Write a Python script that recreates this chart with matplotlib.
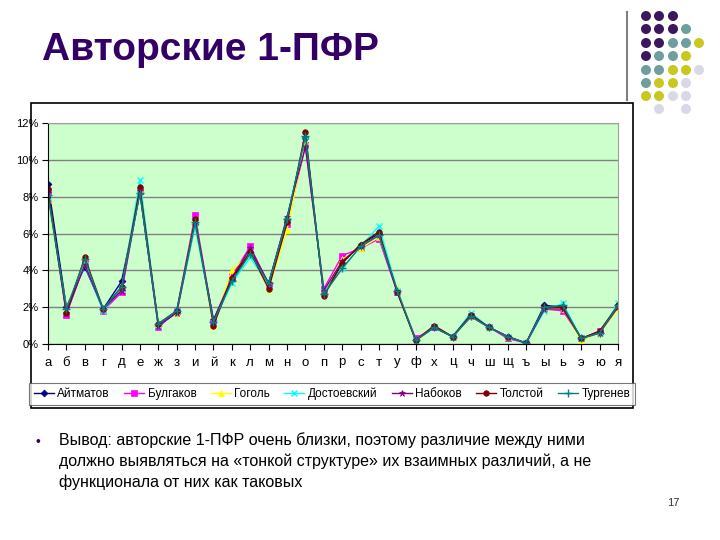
import numpy as np
import matplotlib
matplotlib.use("Agg")
import matplotlib.pyplot as plt
from matplotlib.patches import Rectangle, Circle
from matplotlib.ticker import FuncFormatter

plt.rcParams['font.family'] = ['Liberation Sans', 'DejaVu Sans']

# Letters of the alphabet (categories)
letters = ['а', 'б', 'в', 'г', 'д', 'е', 'ж', 'з', 'и', 'й', 'к', 'л', 'м', 'н', 'о', 'п',
           'р', 'с', 'т', 'у', 'ф', 'х', 'ц', 'ч', 'ш', 'щ', 'ъ', 'ы', 'ь', 'э', 'ю', 'я']

# Letter frequencies, %
aitmatov = [8.7, 2.0, 4.2, 1.9, 3.4, 8.2, 1.0, 1.7, 6.5, 1.3, 3.5, 5.0, 3.3, 6.8, 11.2, 2.7,
            4.4, 5.4, 6.0, 2.9, 0.2, 0.9, 0.4, 1.5, 0.9, 0.4, 0.05, 2.1, 2.0, 0.3, 0.6, 2.1]
bulgakov = [8.3, 1.6, 4.4, 1.8, 2.8, 8.3, 0.9, 1.8, 7.0, 1.2, 3.7, 5.3, 3.2, 6.5, 10.8, 3.0,
            4.8, 5.2, 5.7, 2.8, 0.3, 0.9, 0.4, 1.5, 0.9, 0.3, 0.05, 1.9, 1.8, 0.3, 0.7, 2.0]
gogol = [7.8, 1.9, 4.5, 1.9, 3.0, 8.4, 1.1, 1.7, 6.8, 1.0, 4.0, 4.9, 3.0, 6.2, 11.0, 2.8,
         4.6, 5.2, 5.8, 3.0, 0.1, 1.0, 0.4, 1.5, 0.9, 0.4, 0.05, 1.9, 1.9, 0.2, 0.6, 1.9]
dostoevsky = [8.0, 1.8, 4.3, 1.8, 3.0, 8.9, 1.0, 1.8, 6.4, 1.2, 3.3, 4.7, 3.2, 6.7, 11.3, 2.8,
              4.1, 5.3, 6.4, 2.9, 0.2, 0.9, 0.4, 1.7, 0.9, 0.4, 0.05, 1.8, 2.2, 0.3, 0.6, 2.2]
nabokov = [8.2, 1.7, 4.3, 1.9, 2.9, 8.3, 1.0, 1.7, 6.7, 1.3, 3.6, 5.2, 3.3, 6.9, 10.7, 2.9,
           4.5, 5.3, 5.9, 2.8, 0.2, 0.9, 0.4, 1.5, 0.9, 0.4, 0.05, 1.9, 1.9, 0.3, 0.6, 2.0]
tolstoy = [8.4, 1.7, 4.7, 1.9, 3.1, 8.5, 1.1, 1.8, 6.8, 1.0, 3.6, 5.0, 3.0, 6.6, 11.5, 2.6,
           4.4, 5.4, 6.1, 2.8, 0.2, 1.0, 0.4, 1.6, 0.9, 0.4, 0.05, 2.0, 2.0, 0.3, 0.7, 2.1]
turgenev = [8.1, 1.9, 4.6, 1.9, 3.1, 8.2, 1.1, 1.8, 6.6, 1.2, 3.4, 4.9, 3.3, 6.8, 11.3, 2.7,
            4.1, 5.3, 5.9, 2.9, 0.2, 0.9, 0.4, 1.5, 0.9, 0.4, 0.05, 2.0, 2.1, 0.3, 0.6, 2.1]

authors = ['Айтматов', 'Булгаков', 'Гоголь', 'Достоевский', 'Набоков', 'Толстой', 'Тургенев']
series = [aitmatov, bulgakov, gogol, dostoevsky, nabokov, tolstoy, turgenev]
colors = ['#000080', '#FF00FF', '#FFFF00', '#00FFFF', '#800080', '#800000', '#008080']
markers = ['D', 's', '^', 'x', '*', 'o', '+']
msizes = [3.5, 4, 4, 5, 5, 4, 6]

W, H = 720, 540
fig = plt.figure(figsize=(7.2, 5.4), dpi=100)

# background layer in pixel coordinates
bg = fig.add_axes([0, 0, 1, 1])
bg.set_xlim(0, W)
bg.set_ylim(H, 0)
bg.axis('off')

# vertical grey line near the top-right
bg.plot([627, 627], [12, 100], color='#808080', lw=1.5)

# decorative dots
P, T, Y, L = '#3B1760', '#6E9E9E', '#C8C81E', '#D8D8E8'
dot_rows = [
    [P, P, P],
    [P, P, P, T],
    [P, P, T, T, Y],
    [P, T, T, Y],
    [T, T, Y, Y, L],
    [T, Y, Y, L],
    [Y, Y, L, L],
    [None, L, None, L],
]
dot_x = [646, 659, 673, 686, 699]
dot_y = [16, 29, 43, 56, 70, 83, 96, 109]
for r, row in enumerate(dot_rows):
    for c, col in enumerate(row):
        if col is not None:
            bg.add_patch(Circle((dot_x[c], dot_y[r]), 5.0, color=col, lw=0))

# chart frame
bg.add_patch(Rectangle((31, 103), 602, 305, fill=False, ec='black', lw=1.2))

# title
fig.text(42 / W, 1 - 50 / H, 'Авторские 1-ПФР', fontsize=28, fontweight='bold',
         color='#330066', va='center', ha='left')

# bullet text
fig.text(35 / W, 1 - 442 / H, '•', fontsize=10, color='#330066', va='center', ha='left')
body = ('Вывод: авторские 1-ПФР очень близки, поэтому различие между ними\n'
        'должно выявляться на «тонкой структуре» их взаимных различий, а не\n'
        'функционала от них как таковых')
fig.text(59 / W, 1 - 432 / H, body, fontsize=11.5, color='black', va='top', ha='left',
         linespacing=1.45)

fig.text(673 / W, 1 - 503 / H, '17', fontsize=8, color='#333333', va='center', ha='center')

# chart
ax = fig.add_axes([48 / W, 1 - 344 / H, (618 - 48) / W, (344 - 123) / H])
ax.set_facecolor('#CCFFCC')
x = np.arange(len(letters))
for vals, name, c, m, ms in zip(series, authors, colors, markers, msizes):
    ax.plot(x, vals, color=c, marker=m, markersize=ms, lw=1.0, label=name,
            markeredgewidth=1.0 if m in ('x', '+') else 0.5)

ax.set_xlim(0, len(letters) - 1)
ax.set_ylim(0, 12)
ax.set_yticks(np.arange(0, 13, 2))
ax.yaxis.set_major_formatter(FuncFormatter(lambda v, p: f'{int(v)}%'))
ax.set_xticks(x)
ax.set_xticklabels(letters, fontsize=9.5)
ax.tick_params(axis='y', labelsize=8, length=4, direction='out', color='black', pad=3)
ax.tick_params(axis='x', length=4, direction='out', color='black', pad=5)
ax.grid(axis='y', color='#808080', lw=1)
ax.set_axisbelow(True)
for s in ['top', 'right']:
    ax.spines[s].set_color('#A0A0A0')
ax.spines['left'].set_color('black')
ax.spines['bottom'].set_color('black')

leg = fig.legend(loc='center', bbox_to_anchor=(332 / W, 1 - 394 / H), ncol=7,
                 fontsize=8.5, frameon=True, fancybox=False, handlelength=1.7,
                 handletextpad=0.3, columnspacing=1.2, borderpad=0.4)
leg.get_frame().set_edgecolor('#555555')
leg.get_frame().set_linewidth(0.8)

fig.savefig('out.png', dpi=100)
